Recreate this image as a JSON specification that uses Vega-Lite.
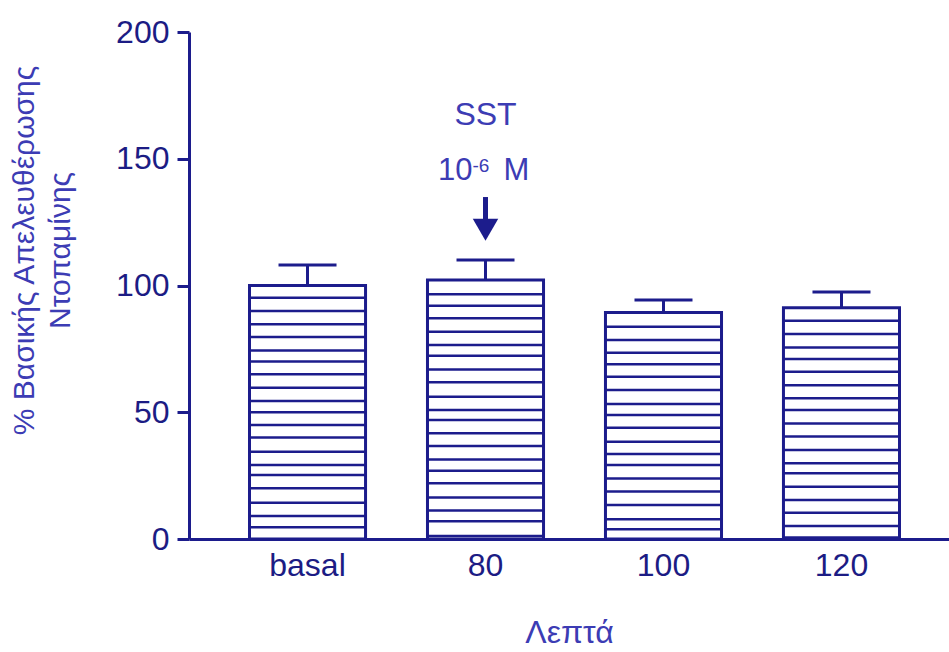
{
  "$schema": "https://vega.github.io/schema/vega-lite/v6.json",
  "width": 760,
  "height": 507,
  "autosize": "none",
  "padding": {"left": 189, "top": 32, "right": 0, "bottom": 113},
  "background": "white",
  "config": {"view": {"stroke": null}, "font": "Liberation Sans"},
  "datasets": {
    "bars": [
      {"cat": "basal", "value": 100, "hi": 108.1, "hatch": [95.2, 89.9, 84.7, 79.7, 74.4, 70.0, 65.0, 59.7, 54.4, 50.0, 45.0, 40.0, 34.4, 29.2, 25.2, 20.0, 14.3, 9.1, 4.6]},
      {"cat": "80", "value": 102.2, "hi": 110.1, "hatch": [96.5, 92.0, 87.1, 81.8, 76.5, 72.3, 66.9, 61.8, 56.1, 50.9, 46.9, 41.7, 36.7, 31.4, 26.9, 22.0, 16.4, 11.2, 7.0, 1.2]},
      {"cat": "100", "value": 89.3, "hi": 94.3, "hatch": [83.7, 78.5, 73.5, 68.9, 64.0, 58.8, 53.3, 48.9, 43.9, 38.4, 33.5, 29.2, 23.9, 18.7, 13.4, 7.8, 3.8]},
      {"cat": "120", "value": 91.2, "hi": 97.4, "hatch": [86.1, 80.9, 75.5, 71.0, 66.0, 60.7, 55.5, 50.9, 45.6, 40.4, 35.1, 29.9, 25.9, 20.6, 15.4, 10.4, 5.1, 0.6]}
    ],
    "notes": [
      {"cat": "80", "y": 163.3, "label": "SST", "part": "sst"},
      {"cat": "80", "y": 141.6, "label": "10", "part": "base"},
      {"cat": "80", "y": 144.8, "label": "-6", "part": "exp"},
      {"cat": "80", "y": 141.6, "label": "M", "part": "unit"}
    ],
    "arrow": [
      {"cat": "80", "top": 134.9, "bottom": 124.5, "head": 122.0}
    ]
  },
  "encoding": {
    "x": {
      "field": "cat",
      "type": "nominal",
      "sort": null,
      "scale": {"domain": ["basal", "80", "100", "120"], "paddingInner": 0.348, "paddingOuter": 0.309, "align": 0.55},
      "axis": {
        "title": "Λεπτά",
        "titleFont": "Liberation Sans",
        "titleFontSize": 32,
        "titleFontWeight": "normal",
        "titleColor": "#3c3cb4",
        "titleBaseline": "alphabetic",
        "titleY": 103,
        "labelAngle": 0,
        "labelFont": "Liberation Sans",
        "labelFontSize": 32,
        "labelColor": "#1c1c84",
        "labelPadding": 11,
        "labelBaseline": "top",
        "ticks": false,
        "domainColor": "#1c1c8c",
        "domainWidth": 3,
        "grid": false
      }
    }
  },
  "layer": [
    {
      "data": {"name": "bars"},
      "mark": {"type": "bar", "fill": "white", "stroke": "#1c1c8c", "strokeWidth": 3},
      "encoding": {
        "y": {
          "field": "value",
          "type": "quantitative",
          "title": ["% Βασικής Απελευθέρωσης", "Ντοπαμίνης"],
          "scale": {"domain": [0, 200], "nice": false, "zero": true},
          "axis": {
            "titleFont": "Liberation Sans",
            "titleFontSize": 30,
            "titleFontWeight": "normal",
            "titleColor": "#3c3cb4",
            "titleAngle": -90,
            "titleAlign": "center",
            "titleBaseline": "top",
            "titleLineHeight": 36,
            "titleX": -180,
            "titleY": 218,
            "values": [0, 50, 100, 150, 200],
            "labelFont": "Liberation Sans",
            "labelFontSize": 32,
            "labelColor": "#1c1c84",
            "labelPadding": 8,
            "tickSize": 12,
            "tickWidth": 3,
            "tickColor": "#1c1c8c",
            "domainColor": "#1c1c8c",
            "domainWidth": 3,
            "grid": false
          }
        }
      }
    },
    {
      "data": {"name": "bars"},
      "transform": [{"flatten": ["hatch"]}],
      "mark": {"type": "tick", "orient": "horizontal", "size": 116, "thickness": 2.5, "color": "#1c1c8c", "opacity": 1},
      "encoding": {
        "y": {"field": "hatch", "type": "quantitative"}
      }
    },
    {
      "data": {"name": "bars"},
      "mark": {"type": "rule", "color": "#1c1c8c", "strokeWidth": 3},
      "encoding": {
        "y": {"field": "value", "type": "quantitative"},
        "y2": {"field": "hi"}
      }
    },
    {
      "data": {"name": "bars"},
      "mark": {"type": "tick", "orient": "horizontal", "size": 58, "thickness": 3, "color": "#1c1c8c", "opacity": 1},
      "encoding": {
        "y": {"field": "hi", "type": "quantitative"}
      }
    },
    {
      "data": {"name": "notes"},
      "transform": [{"filter": "datum.part === 'sst'"}],
      "mark": {"type": "text", "font": "Liberation Sans", "fontSize": 32, "color": "#3c3cb4", "align": "center", "baseline": "alphabetic"},
      "encoding": {
        "y": {"field": "y", "type": "quantitative"},
        "text": {"field": "label"}
      }
    },
    {
      "data": {"name": "notes"},
      "transform": [{"filter": "datum.part === 'base'"}],
      "mark": {"type": "text", "font": "Liberation Sans", "fontSize": 31, "color": "#3c3cb4", "align": "right", "baseline": "alphabetic", "dx": -13},
      "encoding": {
        "y": {"field": "y", "type": "quantitative"},
        "text": {"field": "label"}
      }
    },
    {
      "data": {"name": "notes"},
      "transform": [{"filter": "datum.part === 'exp'"}],
      "mark": {"type": "text", "font": "Liberation Sans", "fontSize": 19, "color": "#3c3cb4", "align": "left", "baseline": "alphabetic", "dx": -13},
      "encoding": {
        "y": {"field": "y", "type": "quantitative"},
        "text": {"field": "label"}
      }
    },
    {
      "data": {"name": "notes"},
      "transform": [{"filter": "datum.part === 'unit'"}],
      "mark": {"type": "text", "font": "Liberation Sans", "fontSize": 31, "color": "#3c3cb4", "align": "left", "baseline": "alphabetic", "dx": 18},
      "encoding": {
        "y": {"field": "y", "type": "quantitative"},
        "text": {"field": "label"}
      }
    },
    {
      "data": {"name": "arrow"},
      "mark": {"type": "rule", "color": "#1c1c8c", "strokeWidth": 5},
      "encoding": {
        "y": {"field": "top", "type": "quantitative"},
        "y2": {"field": "bottom"}
      }
    },
    {
      "data": {"name": "arrow"},
      "mark": {"type": "point", "shape": "triangle-down", "filled": true, "color": "#1c1c8c", "size": 650, "opacity": 1},
      "encoding": {
        "y": {"field": "head", "type": "quantitative"}
      }
    }
  ]
}
